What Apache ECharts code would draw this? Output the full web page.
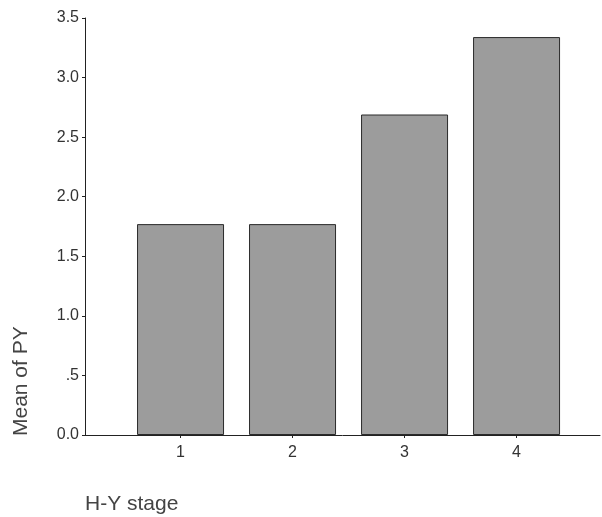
<!DOCTYPE html>
<html><head><meta charset="utf-8">
<script src="https://cdn.jsdelivr.net/npm/echarts@6/dist/echarts.min.js"></script>
<style>html,body{margin:0;padding:0;background:#fff}#c{width:602px;height:517px}</style>
</head><body><div id="c"></div>
<script>
var categories = [1, 2, 3, 4];
var meanPY = [1.77, 1.77, 2.69, 3.34];
var yTicks = [0, 0.5, 1, 1.5, 2, 2.5, 3, 3.5];
var xTitle = 'H-Y stage';
var yTitle = 'Mean of PY';

var chart = echarts.init(document.getElementById('c'));
var font = 'Liberation Sans, Arial, sans-serif';
chart.setOption({
  animation: false,
  backgroundColor: '#fff',
  grid: {left: 85, right: 2, top: 18, bottom: 82, containLabel: false},
  xAxis: {
    type: 'value', min: 0.147, max: 4.745,
    axisLine: {show: true, lineStyle: {color: '#222', width: 1}},
    axisTick: {show: true, length: 3, customValues: categories, lineStyle: {color: '#222'}},
    axisLabel: {customValues: categories, margin: 10, fontSize: 16, color: '#333', fontFamily: font},
    splitLine: {show: false}
  },
  yAxis: {
    type: 'value', min: 0, max: 3.5, interval: 0.5,
    axisLine: {show: true, lineStyle: {color: '#222', width: 1}},
    axisTick: {show: true, length: 3, lineStyle: {color: '#222'}},
    axisLabel: {margin: 6, fontSize: 16, color: '#333', fontFamily: font,
      customValues: yTicks,
      formatter: function (v) { return v === 0.5 ? '.5' : v.toFixed(1); }},
    splitLine: {show: false}
  },
  series: [{
    type: 'bar',
    barWidth: 87,
    data: categories.map(function (c, i) { return [c, meanPY[i]]; }),
    itemStyle: {color: '#9c9c9c', borderColor: '#2a2a2a', borderWidth: 1}
  }],
  graphic: [
    {type: 'text', left: 85, top: 494, style: {text: xTitle, fill: '#444', font: '21px ' + font}},
    {type: 'text', x: 21, y: 436, rotation: Math.PI / 2,
      style: {text: yTitle, fill: '#444', font: '21px ' + font, textAlign: 'left', textVerticalAlign: 'middle'}}
  ]
});
</script></body></html>
